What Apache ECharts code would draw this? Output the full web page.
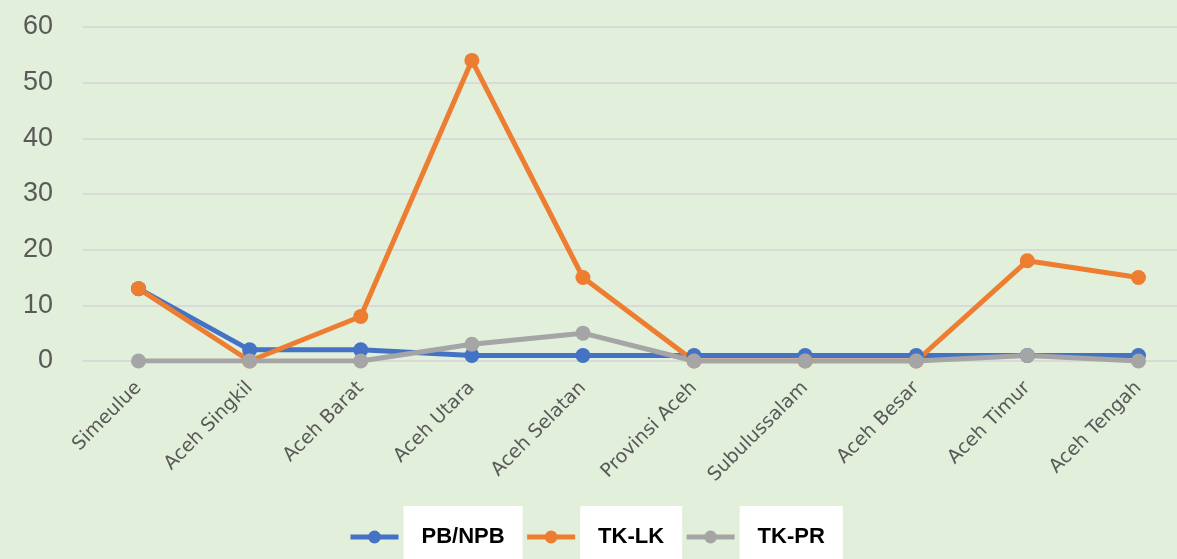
<!DOCTYPE html>
<html>
<head>
<meta charset="utf-8">
<script src="https://cdn.jsdelivr.net/npm/echarts@6/dist/echarts.min.js"></script>
<style>
html,body{margin:0;padding:0;background:#E2EFDA;}
#c{width:1177px;height:559px;}
</style>
</head>
<body>
<div id="c"></div>
<script>
const categories = ['Simeulue','Aceh Singkil','Aceh Barat','Aceh Utara','Aceh Selatan','Provinsi Aceh','Subulussalam','Aceh Besar','Aceh Timur','Aceh Tengah'];
const pbNpb = [13, 2, 2, 1, 1, 1, 1, 1, 1, 1];
const tkLk = [13, 0, 8, 54, 15, 0, 0, 0, 18, 15];
const tkPr = [0, 0, 0, 3, 5, 0, 0, 0, 1, 0];
const seriesNames = ['PB/NPB', 'TK-LK', 'TK-PR'];
const yTicks = [0, 10, 20, 30, 40, 50, 60];

const colors = ['#4472C4', '#ED7D31', '#A5A5A5'];
const chart = echarts.init(document.getElementById('c'));
function mk(name, data, color) {
  return {
    name: name, type: 'line', data: data,
    symbol: 'circle', symbolSize: 15,
    itemStyle: { color: color },
    lineStyle: { color: color, width: 5 },
    emphasis: { disabled: true },
    animation: false
  };
}
chart.setOption({
  backgroundColor: '#E2EFDA',
  animation: false,
  grid: { left: 83, top: 27, right: -17, height: 334, outerBoundsMode: 'none', containLabel: false },
  xAxis: {
    type: 'category',
    data: categories,
    boundaryGap: true,
    axisLine: { show: true, lineStyle: { color: '#D9D9D9', width: 2 } },
    axisTick: { show: false },
    axisLabel: {
      rotate: 45, margin: 24, interval: 0,
      fontFamily: 'DejaVu Sans', fontSize: 19, color: '#595959'
    }
  },
  yAxis: {
    type: 'value', min: yTicks[0], max: yTicks[yTicks.length - 1], interval: 10,
    axisLine: { show: false },
    axisTick: { show: false },
    splitLine: { lineStyle: { color: '#D9D9D9', width: 2 } },
    axisLabel: { margin: 30, fontFamily: 'Liberation Sans', fontSize: 27, color: '#595959' }
  },
  legend: {
    top: 501, left: 343,
    itemWidth: 48, itemHeight: 16, itemGap: 2,
    data: seriesNames,
    lineStyle: { width: 5 },
    textStyle: {
      fontFamily: 'Liberation Sans', fontWeight: 'bold', fontSize: 22, color: '#000',
      backgroundColor: '#FFFFFF', padding: [18, 18, 22, 18]
    }
  },
  series: [
    mk(seriesNames[0], pbNpb, colors[0]),
    mk(seriesNames[1], tkLk, colors[1]),
    mk(seriesNames[2], tkPr, colors[2])
  ]
});
</script>
</body>
</html>
